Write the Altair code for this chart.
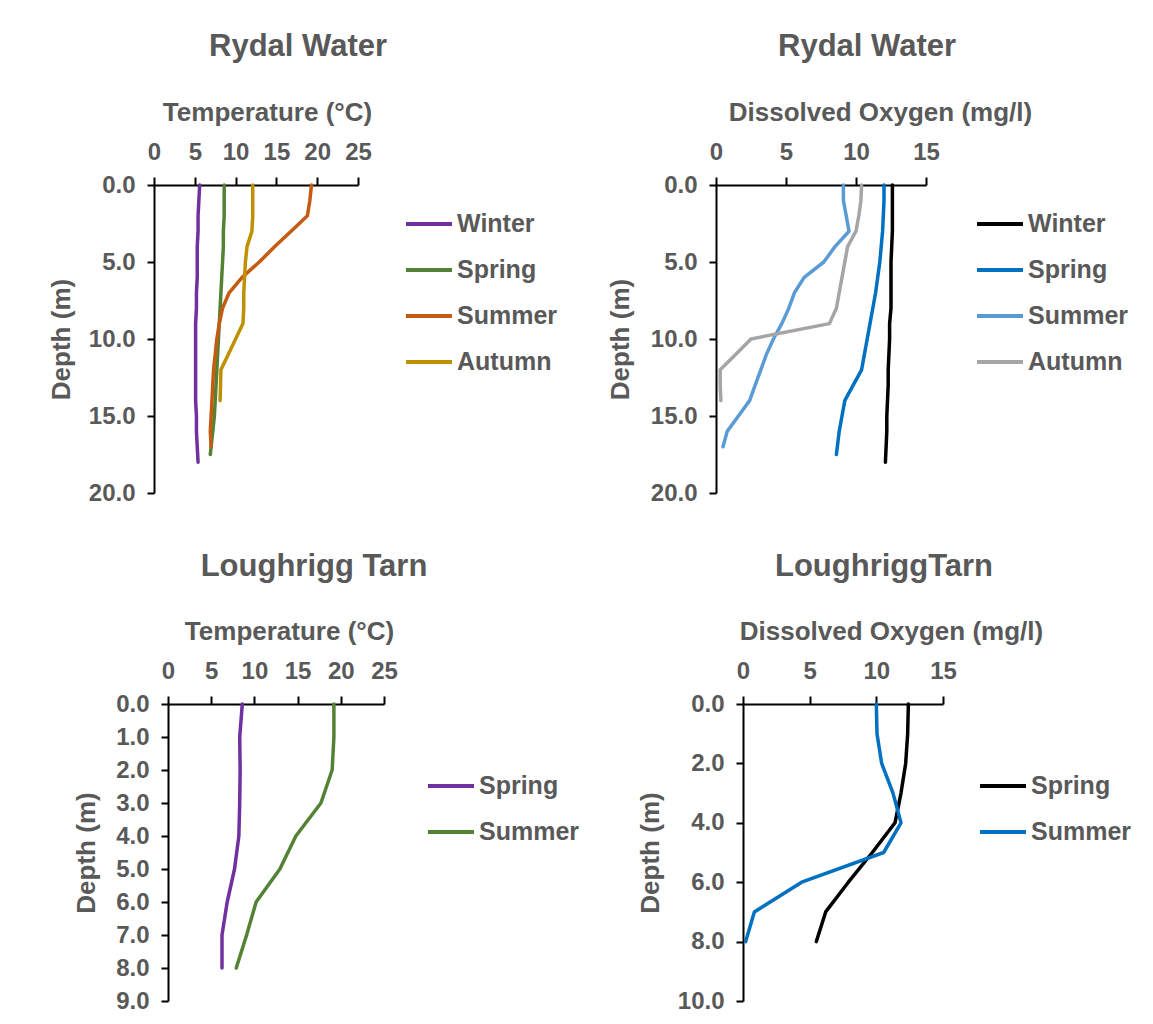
import altair as alt
import pandas as pd

FONT = "Liberation Sans"
GREY = "#595959"

# ---------------- Rydal Water : Temperature (°C) ----------------
rw_t_winter_depth = [0, 1, 2, 3, 4, 5, 6, 7, 8, 9, 10, 11, 12, 13, 14, 15, 16, 17, 18]
rw_t_winter = [5.6, 5.5, 5.4, 5.4, 5.3, 5.3, 5.3, 5.2, 5.2, 5.1, 5.1, 5.1, 5.1, 5.1, 5.1, 5.2, 5.2, 5.3, 5.4]
rw_t_spring_depth = [0, 1, 2, 3, 4, 5, 6, 7, 8, 9, 10, 11, 12, 13, 14, 15, 16, 17, 17.5]
rw_t_spring = [8.6, 8.6, 8.6, 8.5, 8.5, 8.4, 8.3, 8.2, 8.1, 8.0, 7.9, 7.8, 7.7, 7.6, 7.5, 7.4, 7.2, 7.0, 6.9]
rw_t_summer_depth = [0, 1, 2, 3, 4, 5, 6, 7, 8, 9, 10, 11, 12, 13, 14, 15, 16, 17]
rw_t_summer = [19.3, 19.1, 18.8, 16.8, 14.8, 12.9, 10.8, 9.2, 8.4, 8.0, 7.7, 7.5, 7.3, 7.2, 7.1, 7.0, 6.9, 7.0]
rw_t_autumn_depth = [0, 1, 2, 3, 4, 5, 6, 7, 8, 9, 10, 11, 12, 13, 14]
rw_t_autumn = [12.1, 12.1, 12.1, 12.0, 11.4, 11.2, 11.1, 11.0, 11.0, 10.9, 10.0, 9.1, 8.2, 8.15, 8.1]

# ---------------- Rydal Water : Dissolved Oxygen (mg/l) ----------------
rw_o_winter_depth = [0, 1, 2, 3, 4, 5, 6, 7, 8, 9, 10, 11, 12, 13, 14, 15, 16, 17, 18]
rw_o_winter = [12.6, 12.6, 12.6, 12.6, 12.55, 12.5, 12.5, 12.5, 12.5, 12.4, 12.4, 12.35, 12.3, 12.3, 12.25, 12.2, 12.2, 12.15, 12.1]
rw_o_spring_depth = [0, 1, 2, 3, 4, 5, 6, 7, 8, 9, 10, 11, 12, 13, 14, 15, 16, 17.5]
rw_o_spring = [12.0, 12.0, 11.95, 11.9, 11.8, 11.7, 11.55, 11.4, 11.2, 11.0, 10.8, 10.6, 10.4, 9.8, 9.2, 9.0, 8.8, 8.6]
rw_o_summer_depth = [0, 1, 2, 3, 4, 5, 6, 7, 8, 9, 10, 11, 12, 13, 14, 15, 16, 17]
rw_o_summer = [9.1, 9.1, 9.3, 9.5, 8.5, 7.7, 6.3, 5.6, 5.2, 4.7, 4.1, 3.6, 3.2, 2.8, 2.4, 1.6, 0.8, 0.5]
rw_o_autumn_depth = [0, 1, 2, 3, 4, 5, 6, 7, 8, 9, 10, 11, 12, 13, 14]
rw_o_autumn = [10.4, 10.35, 10.2, 10.0, 9.4, 9.2, 9.0, 8.8, 8.6, 8.1, 2.5, 1.4, 0.3, 0.3, 0.35]

# ---------------- Loughrigg Tarn : Temperature (°C) ----------------
lt_t_depth = [0, 1, 2, 3, 4, 5, 6, 7, 8]
lt_t_spring = [8.6, 8.3, 8.35, 8.3, 8.2, 7.7, 6.85, 6.25, 6.25]
lt_t_summer = [19.2, 19.2, 19.0, 17.7, 14.8, 12.95, 10.2, 9.1, 7.9]

# ---------------- Loughrigg Tarn : Dissolved Oxygen (mg/l) ----------------
lt_o_depth = [0, 1, 2, 3, 4, 5, 6, 7, 8]
lt_o_spring = [12.4, 12.35, 12.2, 11.85, 11.4, 9.7, 7.9, 6.2, 5.5]
lt_o_summer = [10.0, 10.05, 10.4, 11.25, 11.85, 10.55, 4.4, 0.85, 0.2]

seasons4 = ["Winter", "Spring", "Summer", "Autumn"]
seasons2 = ["Spring", "Summer"]
rw_t_colors = ["#7030A0", "#548235", "#C55A11", "#BF9000"]
rw_o_colors = ["#000000", "#0070C0", "#5B9BD5", "#A5A5A5"]
lt_t_colors = ["#7030A0", "#548235"]
lt_o_colors = ["#000000", "#0070C0"]


def frame(series):
    rows = []
    for name, depths, values in series:
        for d, v in zip(depths, values):
            rows.append({"season": name, "depth": d, "value": v})
    return pd.DataFrame(rows)


def panel(df, title, title_dx, title_offset, width, height,
          xdomain, xticks, xtitle, xtitle_x,
          ydomain, yticks, ytitle_x,
          seasons, colors, legend_x, legend_y, inset=0):
    xscale = dict(domain=xdomain, nice=False, zero=False)
    yaxis = dict(values=yticks, format=".1f", title="Depth (m)",
                 titleX=ytitle_x, titleY=height / 2, titleAlign="center",
                 titleBaseline="middle", tickSize=7, labelPadding=12,
                 labelFlush=False, labelOverlap=False)
    if inset:
        # plot area starts `inset` px to the right of the view origin
        xscale["range"] = [inset, width]
        yaxis["offset"] = -inset
    return alt.Chart(df).mark_line(strokeWidth=3.5, strokeCap="round", strokeJoin="round").encode(
        x=alt.X("value:Q",
                scale=alt.Scale(**xscale),
                axis=alt.Axis(orient="top", values=xticks, format="d", title=xtitle,
                              titleX=xtitle_x, titleY=-65, titleAlign="center",
                              titleBaseline="alphabetic", labelBaseline="alphabetic",
                              labelPadding=18, tickSize=8, labelFlush=False,
                              labelOverlap=False)),
        y=alt.Y("depth:Q",
                scale=alt.Scale(domain=ydomain, reverse=True, nice=False, zero=False),
                axis=alt.Axis(**yaxis)),
        color=alt.Color("season:N",
                        scale=alt.Scale(domain=seasons, range=colors),
                        sort=seasons,
                        legend=alt.Legend(orient="none", legendX=legend_x, legendY=legend_y,
                                          title=None, symbolType="stroke", symbolSize=2116,
                                          symbolStrokeWidth=4, labelOffset=3, rowPadding=8,
                                          padding=0)),
        order=alt.Order("depth:Q"),
    ).properties(
        width=width, height=height,
        title=alt.TitleParams(text=title, dx=title_dx, anchor="middle", offset=title_offset,
                              baseline="alphabetic"),
    )


p1 = panel(frame([("Winter", rw_t_winter_depth, rw_t_winter),
                  ("Spring", rw_t_spring_depth, rw_t_spring),
                  ("Summer", rw_t_summer_depth, rw_t_summer),
                  ("Autumn", rw_t_autumn_depth, rw_t_autumn)]),
           "Rydal Water", 42, 12, 204, 308,
           [0, 25], [0, 5, 10, 15, 20, 25], "Temperature (°C)", 113,
           [0, 20], [0, 5, 10, 15, 20], -93,
           seasons4, rw_t_colors, 250, 14)

p2 = panel(frame([("Winter", rw_o_winter_depth, rw_o_winter),
                  ("Spring", rw_o_spring_depth, rw_o_spring),
                  ("Summer", rw_o_summer_depth, rw_o_summer),
                  ("Autumn", rw_o_autumn_depth, rw_o_autumn)]),
           "Rydal Water", 46, 12, 210, 308,
           [0, 15], [0, 5, 10, 15], "Dissolved Oxygen (mg/l)", 164,
           [0, 20], [0, 5, 10, 15, 20], -96,
           seasons4, rw_o_colors, 259, 14)

p3 = panel(frame([("Spring", lt_t_depth, lt_t_spring),
                  ("Summer", lt_t_depth, lt_t_summer)]),
           "Loughrigg Tarn", 45, 11, 230, 297,
           [0, 25], [0, 5, 10, 15, 20, 25], "Temperature (°C)", 135,
           [0, 9], list(range(0, 10)), -82,
           seasons2, lt_t_colors, 272, 57, inset=14)

p4 = panel(frame([("Spring", lt_o_depth, lt_o_spring),
                  ("Summer", lt_o_depth, lt_o_summer)]),
           "LoughriggTarn", 41, 11, 200, 297,
           [0, 15], [0, 5, 10, 15], "Dissolved Oxygen (mg/l)", 148,
           [0, 10], [0, 2, 4, 6, 8, 10], -93,
           seasons2, lt_o_colors, 235, 57)

top = alt.hconcat(p1, p2, spacing=49).resolve_scale(color="independent")
bottom = alt.hconcat(p3, p4, spacing=57).resolve_scale(color="independent")

chart = alt.vconcat(top, bottom, spacing=46).resolve_scale(color="independent").properties(
    padding={"left": 40, "top": 23, "right": 0, "bottom": 0},
    background="white",
).configure_view(stroke=None).configure_axis(
    grid=False,
    domainColor="black", domainWidth=2,
    tickColor="black", tickWidth=2,
    labelFont=FONT, labelFontSize=24, labelFontWeight="bold", labelColor=GREY,
    titleFont=FONT, titleFontSize=26, titleFontWeight="bold", titleColor=GREY,
).configure_legend(
    labelFont=FONT, labelFontSize=25, labelFontWeight="bold", labelColor=GREY,
).configure_title(
    font=FONT, fontSize=31, fontWeight="bold", color=GREY,
)

chart.save("out.html", embed_options={"renderer": "svg", "actions": False})
